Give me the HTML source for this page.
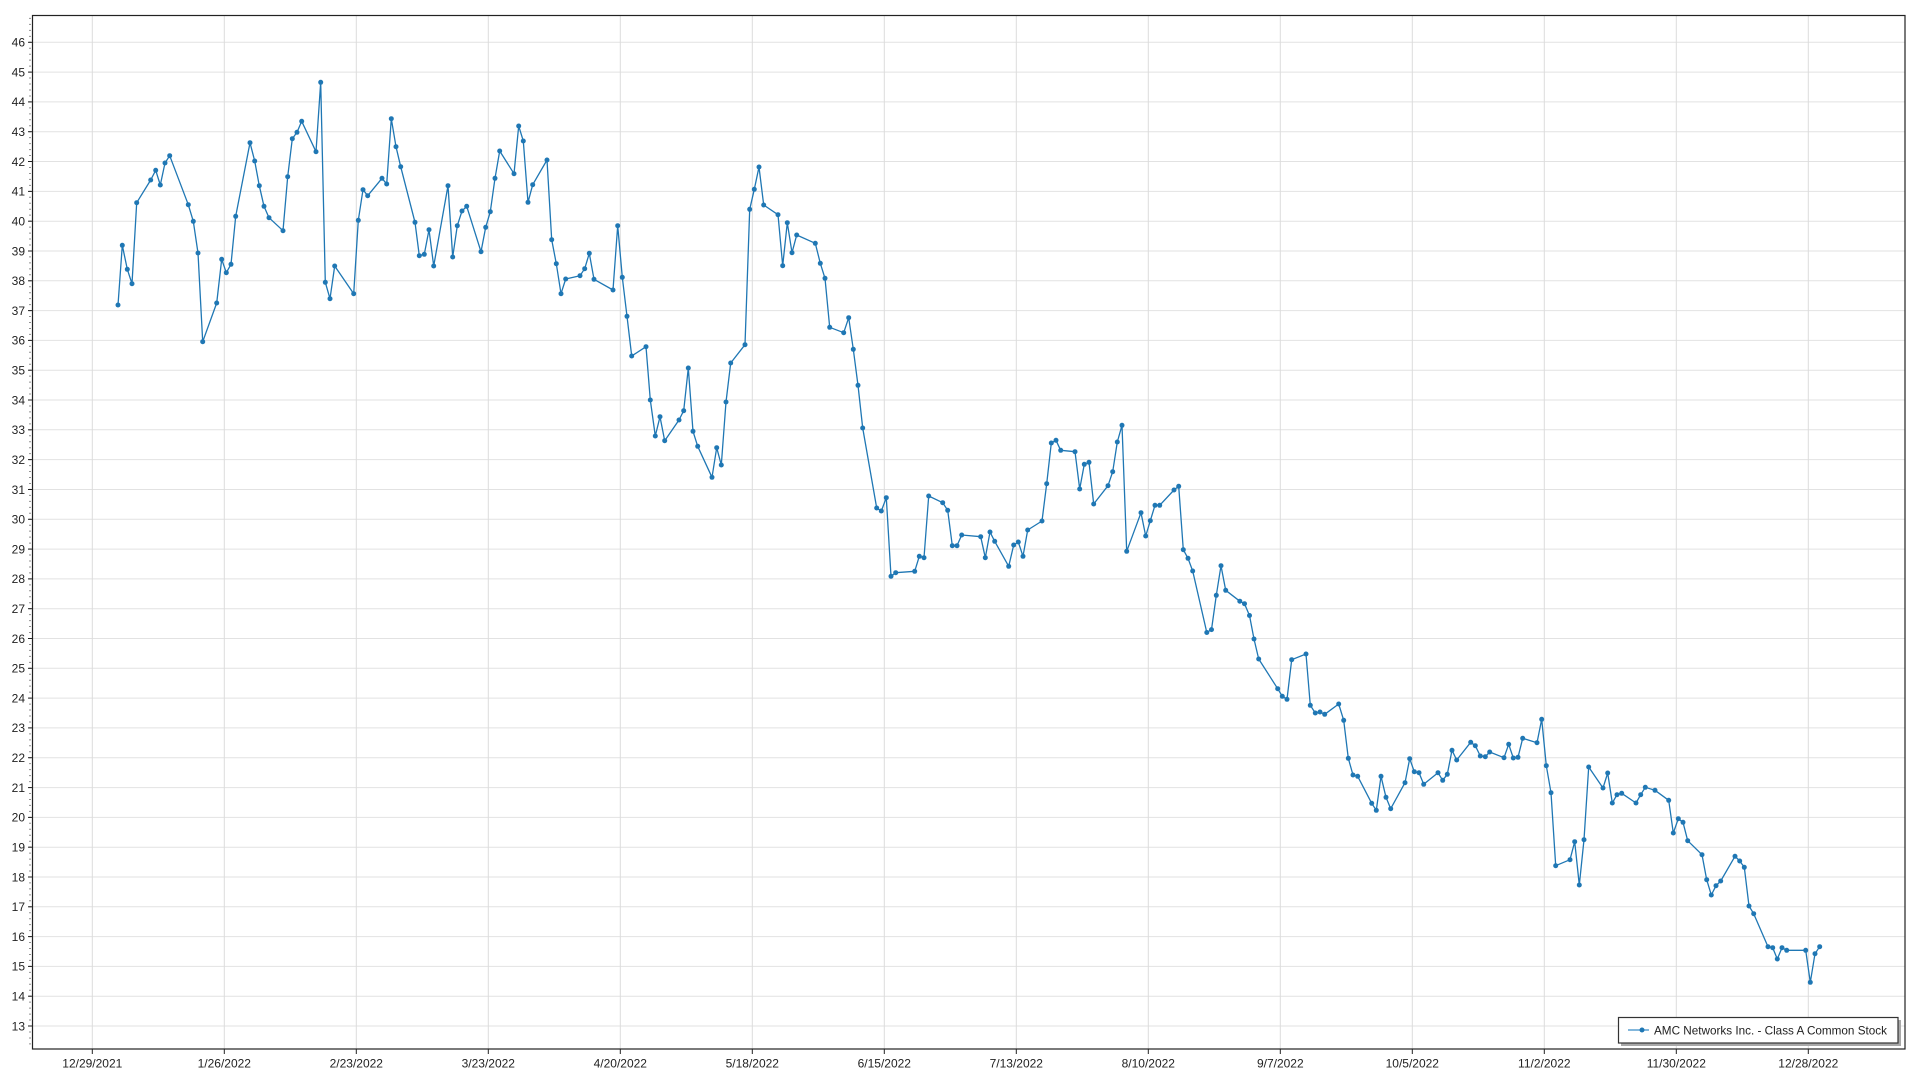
<!DOCTYPE html>
<html><head><meta charset="utf-8"><style>
html,body{margin:0;padding:0;background:#fff;width:1920px;height:1080px;overflow:hidden}
svg{display:block;font-family:"Segoe UI","Liberation Sans",sans-serif;font-size:12px;fill:#222}
</style></head><body>
<svg width="1920" height="1080" viewBox="0 0 1920 1080" xmlns="http://www.w3.org/2000/svg">
<defs>
<marker id="m" markerWidth="6" markerHeight="6" refX="3" refY="3" markerUnits="userSpaceOnUse"><circle cx="3" cy="3" r="2.5" fill="#1f77b4"/></marker>
</defs>
<rect x="0" y="0" width="1920" height="1080" fill="#fff"/>
<g stroke="#e2e2e2" stroke-width="1">
<line x1="32" x2="1905" y1="42.3" y2="42.3"/><line x1="32" x2="1905" y1="72.1" y2="72.1"/><line x1="32" x2="1905" y1="101.9" y2="101.9"/><line x1="32" x2="1905" y1="131.7" y2="131.7"/><line x1="32" x2="1905" y1="161.5" y2="161.5"/><line x1="32" x2="1905" y1="191.4" y2="191.4"/><line x1="32" x2="1905" y1="221.2" y2="221.2"/><line x1="32" x2="1905" y1="251" y2="251"/><line x1="32" x2="1905" y1="280.8" y2="280.8"/><line x1="32" x2="1905" y1="310.6" y2="310.6"/><line x1="32" x2="1905" y1="340.4" y2="340.4"/><line x1="32" x2="1905" y1="370.2" y2="370.2"/><line x1="32" x2="1905" y1="400" y2="400"/><line x1="32" x2="1905" y1="429.8" y2="429.8"/><line x1="32" x2="1905" y1="459.6" y2="459.6"/><line x1="32" x2="1905" y1="489.5" y2="489.5"/><line x1="32" x2="1905" y1="519.3" y2="519.3"/><line x1="32" x2="1905" y1="549.1" y2="549.1"/><line x1="32" x2="1905" y1="578.9" y2="578.9"/><line x1="32" x2="1905" y1="608.7" y2="608.7"/><line x1="32" x2="1905" y1="638.5" y2="638.5"/><line x1="32" x2="1905" y1="668.3" y2="668.3"/><line x1="32" x2="1905" y1="698.1" y2="698.1"/><line x1="32" x2="1905" y1="727.9" y2="727.9"/><line x1="32" x2="1905" y1="757.7" y2="757.7"/><line x1="32" x2="1905" y1="787.6" y2="787.6"/><line x1="32" x2="1905" y1="817.4" y2="817.4"/><line x1="32" x2="1905" y1="847.2" y2="847.2"/><line x1="32" x2="1905" y1="877" y2="877"/><line x1="32" x2="1905" y1="906.8" y2="906.8"/><line x1="32" x2="1905" y1="936.6" y2="936.6"/><line x1="32" x2="1905" y1="966.4" y2="966.4"/><line x1="32" x2="1905" y1="996.2" y2="996.2"/><line x1="32" x2="1905" y1="1026" y2="1026"/>
</g>
<g stroke="#dcdcdc" stroke-width="1">
<line y1="15" y2="1049" x1="92.3" x2="92.3"/><line y1="15" y2="1049" x1="224.3" x2="224.3"/><line y1="15" y2="1049" x1="356.3" x2="356.3"/><line y1="15" y2="1049" x1="488.3" x2="488.3"/><line y1="15" y2="1049" x1="620.3" x2="620.3"/><line y1="15" y2="1049" x1="752.3" x2="752.3"/><line y1="15" y2="1049" x1="884.3" x2="884.3"/><line y1="15" y2="1049" x1="1016.3" x2="1016.3"/><line y1="15" y2="1049" x1="1148.3" x2="1148.3"/><line y1="15" y2="1049" x1="1280.3" x2="1280.3"/><line y1="15" y2="1049" x1="1412.3" x2="1412.3"/><line y1="15" y2="1049" x1="1544.3" x2="1544.3"/><line y1="15" y2="1049" x1="1676.3" x2="1676.3"/><line y1="15" y2="1049" x1="1808.3" x2="1808.3"/>
</g>
<rect x="32.5" y="15.5" width="1872.5" height="1033.5" fill="none" stroke="#222" stroke-width="1.2"/>
<!-- minor ticks -->
<line x1="30" x2="30" y1="1044.4" y2="15" stroke="#222" stroke-width="1" stroke-dasharray="1 4.962"/>
<!-- major y ticks -->
<g stroke="#222" stroke-width="1">
<line x1="28" x2="32" y1="42.3" y2="42.3"/><line x1="28" x2="32" y1="72.1" y2="72.1"/><line x1="28" x2="32" y1="101.9" y2="101.9"/><line x1="28" x2="32" y1="131.7" y2="131.7"/><line x1="28" x2="32" y1="161.5" y2="161.5"/><line x1="28" x2="32" y1="191.4" y2="191.4"/><line x1="28" x2="32" y1="221.2" y2="221.2"/><line x1="28" x2="32" y1="251" y2="251"/><line x1="28" x2="32" y1="280.8" y2="280.8"/><line x1="28" x2="32" y1="310.6" y2="310.6"/><line x1="28" x2="32" y1="340.4" y2="340.4"/><line x1="28" x2="32" y1="370.2" y2="370.2"/><line x1="28" x2="32" y1="400" y2="400"/><line x1="28" x2="32" y1="429.8" y2="429.8"/><line x1="28" x2="32" y1="459.6" y2="459.6"/><line x1="28" x2="32" y1="489.5" y2="489.5"/><line x1="28" x2="32" y1="519.3" y2="519.3"/><line x1="28" x2="32" y1="549.1" y2="549.1"/><line x1="28" x2="32" y1="578.9" y2="578.9"/><line x1="28" x2="32" y1="608.7" y2="608.7"/><line x1="28" x2="32" y1="638.5" y2="638.5"/><line x1="28" x2="32" y1="668.3" y2="668.3"/><line x1="28" x2="32" y1="698.1" y2="698.1"/><line x1="28" x2="32" y1="727.9" y2="727.9"/><line x1="28" x2="32" y1="757.7" y2="757.7"/><line x1="28" x2="32" y1="787.6" y2="787.6"/><line x1="28" x2="32" y1="817.4" y2="817.4"/><line x1="28" x2="32" y1="847.2" y2="847.2"/><line x1="28" x2="32" y1="877" y2="877"/><line x1="28" x2="32" y1="906.8" y2="906.8"/><line x1="28" x2="32" y1="936.6" y2="936.6"/><line x1="28" x2="32" y1="966.4" y2="966.4"/><line x1="28" x2="32" y1="996.2" y2="996.2"/><line x1="28" x2="32" y1="1026" y2="1026"/>
<line y1="1049" y2="1054" x1="92.3" x2="92.3"/><line y1="1049" y2="1054" x1="224.3" x2="224.3"/><line y1="1049" y2="1054" x1="356.3" x2="356.3"/><line y1="1049" y2="1054" x1="488.3" x2="488.3"/><line y1="1049" y2="1054" x1="620.3" x2="620.3"/><line y1="1049" y2="1054" x1="752.3" x2="752.3"/><line y1="1049" y2="1054" x1="884.3" x2="884.3"/><line y1="1049" y2="1054" x1="1016.3" x2="1016.3"/><line y1="1049" y2="1054" x1="1148.3" x2="1148.3"/><line y1="1049" y2="1054" x1="1280.3" x2="1280.3"/><line y1="1049" y2="1054" x1="1412.3" x2="1412.3"/><line y1="1049" y2="1054" x1="1544.3" x2="1544.3"/><line y1="1049" y2="1054" x1="1676.3" x2="1676.3"/><line y1="1049" y2="1054" x1="1808.3" x2="1808.3"/>
</g>
<g text-anchor="end">
<text x="25" y="46.6">46</text><text x="25" y="76.4">45</text><text x="25" y="106.2">44</text><text x="25" y="136">43</text><text x="25" y="165.8">42</text><text x="25" y="195.7">41</text><text x="25" y="225.5">40</text><text x="25" y="255.3">39</text><text x="25" y="285.1">38</text><text x="25" y="314.9">37</text><text x="25" y="344.7">36</text><text x="25" y="374.5">35</text><text x="25" y="404.3">34</text><text x="25" y="434.1">33</text><text x="25" y="463.9">32</text><text x="25" y="493.8">31</text><text x="25" y="523.6">30</text><text x="25" y="553.4">29</text><text x="25" y="583.2">28</text><text x="25" y="613">27</text><text x="25" y="642.8">26</text><text x="25" y="672.6">25</text><text x="25" y="702.4">24</text><text x="25" y="732.2">23</text><text x="25" y="762">22</text><text x="25" y="791.9">21</text><text x="25" y="821.7">20</text><text x="25" y="851.5">19</text><text x="25" y="881.3">18</text><text x="25" y="911.1">17</text><text x="25" y="940.9">16</text><text x="25" y="970.7">15</text><text x="25" y="1000.5">14</text><text x="25" y="1030.3">13</text>
</g>
<g text-anchor="middle">
<text x="92.3" y="1067.5">12/29/2021</text><text x="224.3" y="1067.5">1/26/2022</text><text x="356.3" y="1067.5">2/23/2022</text><text x="488.3" y="1067.5">3/23/2022</text><text x="620.3" y="1067.5">4/20/2022</text><text x="752.3" y="1067.5">5/18/2022</text><text x="884.3" y="1067.5">6/15/2022</text><text x="1016.3" y="1067.5">7/13/2022</text><text x="1148.3" y="1067.5">8/10/2022</text><text x="1280.3" y="1067.5">9/7/2022</text><text x="1412.3" y="1067.5">10/5/2022</text><text x="1544.3" y="1067.5">11/2/2022</text><text x="1676.3" y="1067.5">11/30/2022</text><text x="1808.3" y="1067.5">12/28/2022</text>
</g>
<polyline fill="none" stroke="#1f77b4" stroke-width="1.3" stroke-linejoin="round" marker-start="url(#m)" marker-mid="url(#m)" marker-end="url(#m)" points="118,305 122.3,245.3 127.3,269.3 132,283.7 136.7,202.7 150.7,180 155.7,170.3 160.3,185 165,163 169.7,155.7 188.3,204.7 193.3,221.3 198,253 202.7,341.7 216.7,303 221.7,259.3 226.3,272.7 231,264.3 235.7,216.3 250,142.7 254.7,161 259.3,185.7 264,206.3 269,217.7 283,230.7 287.7,176.7 292.3,138.7 297,132.3 301.7,121.3 316,151.7 320.7,82.3 325.3,282.3 330,298.7 334.7,266 353.7,293.7 358.3,220.3 363,189.7 367.7,195.7 382,178.3 386.7,184 391.3,118.7 396,146.7 400.7,166.7 415,222.3 419.3,255.7 424.3,254.3 429,229.7 433.7,266 448,185.7 452.7,257 457.3,225.7 462,211 466.7,206.3 481,251.7 485.7,227.3 490.3,211.7 495,178.3 499.7,151 514,173.7 518.7,126 523.3,141 528,202.3 532.7,184.7 547,160 551.7,239.7 556.3,263.7 561,293.7 565.7,279 580,275.7 584.7,268.7 589.3,253.3 594,279.3 613,290 617.7,225.7 622.3,277.3 627,316.3 631.7,356 646,346.7 650.3,400 655.3,436 660,416.7 664.7,440.7 679,420 683.7,410.7 688.3,368 693,431.3 697.7,446.3 712,477.3 716.7,447.7 721.3,465 726,402 730.7,363 745,344.7 749.7,209.3 754.3,189.3 759,167 763.7,205 778,214.7 782.7,265.7 787.3,222.7 792,252.7 796.7,235 815.3,243.3 820.3,263.3 825,278.3 829.7,327.3 843.7,332.7 848.7,317.7 853.3,349.3 858,385.3 862.7,428 876.7,508 881.3,511 886.3,497.7 891,576.3 895.7,572.7 914.7,571.3 919.3,556.3 924,557.7 928.7,496 942.7,502.7 947.7,510.3 952.3,545.7 957,545.7 961.7,535 980.7,536.7 985.3,557.7 990,532 994.7,541.3 1008.7,566.3 1013.7,545 1018.3,542 1023,556.3 1027.7,530 1042,521 1046.7,483.7 1051.3,443 1056,440.3 1060.7,450.3 1075,451.7 1079.7,489 1084.3,464.3 1089,462.3 1093.7,504 1108,485.7 1112.7,471.7 1117.3,442 1122,425.3 1126.7,551.3 1141,512.7 1145.7,536 1150.3,520.7 1155,505.3 1159.7,505.3 1174,490 1178.7,486.3 1183.3,549.7 1188,558.3 1192.7,571 1206.8,632.5 1211.5,629.6 1216.3,595.3 1221,565.7 1225.7,590.3 1239.8,601.2 1244.5,603.7 1249.5,615.5 1254,639 1258.7,659 1277.7,688.7 1282.3,696.3 1287,699.3 1291.7,659.7 1306,654 1310.3,705.3 1315.3,713 1320,712 1324.7,714.3 1338.7,704 1343.7,720.3 1348.3,758.3 1353,775 1357.7,776.3 1371.7,803.3 1376.3,810.3 1381,776.3 1386,797.3 1390.7,808.7 1405,782.7 1409.7,758.7 1414.3,771.7 1419,772.7 1423.7,784.3 1438,772.7 1442.7,780.3 1447.3,774.3 1452,750.3 1456.7,760 1470.7,742.3 1475.3,745.7 1480.3,756 1485.3,756.7 1489.7,752 1504,757.7 1508.7,744.3 1513.3,758 1518,757.3 1522.7,738.3 1537,742.7 1541.7,719.3 1546.3,765.7 1551,792.7 1555.7,865.7 1570,859.7 1574.7,841.7 1579.3,885 1584,839.7 1588.7,767 1603,788 1607.7,773 1612.3,803 1617,794.7 1621.7,793.3 1636,803 1640.7,794.7 1645.3,787.3 1655,790.3 1668.7,800.3 1673.3,833 1678.3,818.7 1683,822.3 1687.7,840.7 1702,854.7 1706.7,879.7 1711.3,895 1716,885.7 1720.7,881 1735,856.3 1739.7,861 1744.3,867.3 1749,906 1753.7,913.7 1768,946.7 1772.7,947.7 1777.3,959 1782,947.7 1786.7,950.3 1805.7,950.3 1810.3,982.3 1815,953.7 1819.7,946.7"/>
<!-- legend -->
<rect x="1621" y="1020" width="280" height="26" fill="#a8a8a8"/>
<rect x="1618.5" y="1017.5" width="279.5" height="25.5" fill="#fff" stroke="#333" stroke-width="1.2"/>
<line x1="1628" x2="1649" y1="1030" y2="1030" stroke="#5a9fd0" stroke-width="1.5"/>
<circle cx="1642" cy="1030" r="2.5" fill="#1f77b4"/>
<text x="1654" y="1034.3" textLength="233" lengthAdjust="spacingAndGlyphs">AMC Networks Inc. - Class A Common Stock</text>
</svg>
</body></html>
